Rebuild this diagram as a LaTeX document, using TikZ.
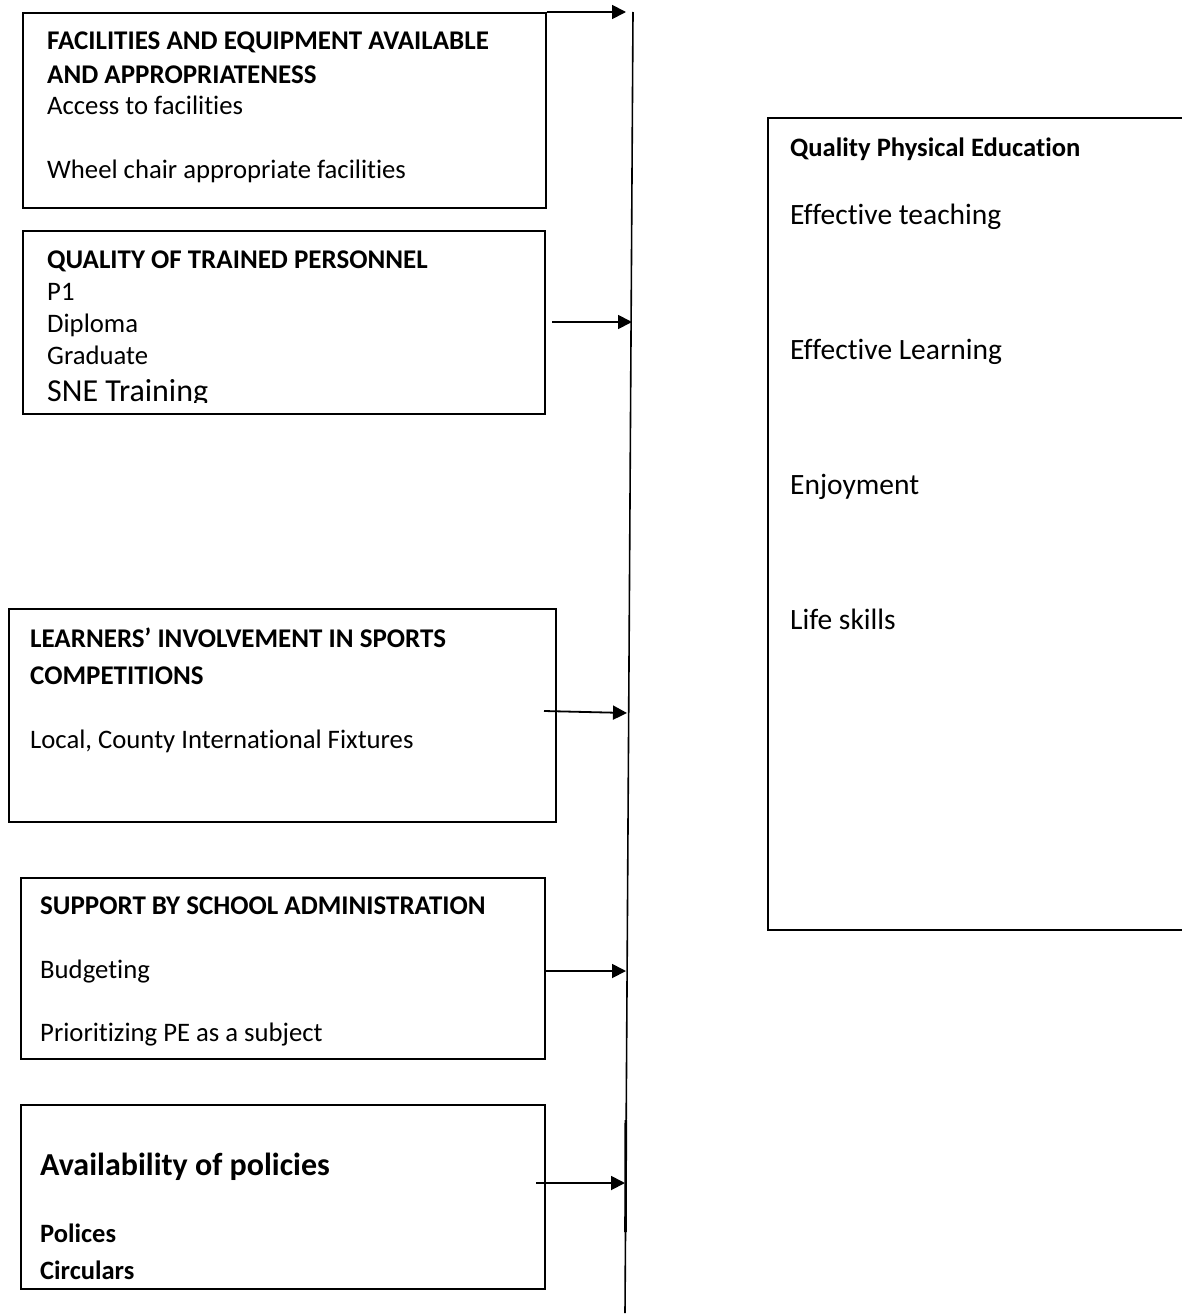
\documentclass[tikz,border=0pt]{standalone}
\usepackage{fontspec}
\setmainfont{Carlito}[Ligatures=CommonOff]
\usetikzlibrary{arrows.meta}

\tikzset{
  box/.style={draw,line width=1.6pt,inner sep=0pt,anchor=north west},
  head/.style={anchor=base west,inner sep=0pt,font=\bfseries\fontsize{27}{32}\selectfont},
  item/.style={anchor=base west,inner sep=0pt,font=\fontsize{26.7}{32}\selectfont},
  big/.style={anchor=base west,inner sep=0pt,font=\fontsize{29.5}{36}\selectfont},
  feed/.style={line width=1.8pt,-{Triangle[length=14pt,width=14pt]}}
}

\begin{document}
\begin{tikzpicture}[x=1pt,y=-1pt]
\useasboundingbox (0,0) rectangle (1182,1314);
\fill[white] (0,0) rectangle (1182,1314);

% left boxes
\node[box,minimum width=523pt,minimum height=195pt] (fac) at (22,12) {};
\node[box,minimum width=522pt,minimum height=183pt] (qtp) at (22,230) {};
\node[box,minimum width=547pt,minimum height=213pt] (lis) at (8,608) {};
\node[box,minimum width=524pt,minimum height=181pt] (ssa) at (20,877) {};
\node[box,minimum width=524pt,minimum height=184pt] (pol) at (20,1104) {};

% right box, open at the page edge
\draw[line width=1.6pt] (1190,118) -- (768,118) -- (768,930) -- (1190,930);

% texts
\node[head] (fac1) at (47,50) {FACILITIES AND EQUIPMENT AVAILABLE};
\node[head] (fac2) at (47,84) {AND APPROPRIATENESS};
\node[item] (fac3) at (47,114) {Access to facilities};
\node[item] (fac4) at (47,178) {Wheel chair appropriate facilities};

\node[head] (qtp1) at (47,268) {QUALITY OF TRAINED PERSONNEL};
\node[item] (qtp2) at (47,300) {P1};
\node[item] (qtp3) at (47,332) {Diploma};
\node[item] (qtp4) at (47,364) {Graduate};
\begin{scope}
\clip (22,370) rectangle (544,402);
\node[anchor=base west,inner sep=0pt,font=\fontsize{32}{38}\selectfont] (qtp5) at (47,401) {SNE Training};
\end{scope}

\node[head] (lis1) at (30,647) {LEARNERS’ INVOLVEMENT IN SPORTS};
\node[head] (lis2) at (30,684) {COMPETITIONS};
\node[item] (lis3) at (30,748) {Local, County International Fixtures};

\node[head] (ssa1) at (40,914) {SUPPORT BY SCHOOL ADMINISTRATION};
\node[item] (ssa2) at (40,978) {Budgeting};
\node[item] (ssa3) at (40,1041) {Prioritizing PE as a subject};

\node[big,font=\bfseries\fontsize{32}{38}\selectfont] (pol1) at (40,1175) {Availability of policies};
\node[head,font=\bfseries\fontsize{26.5}{32}\selectfont] (pol2) at (40,1242) {Polices};
\node[head,font=\bfseries\fontsize{26.5}{32}\selectfont] (pol3) at (40,1279) {Circulars};

\node[head,font=\bfseries\fontsize{26.6}{32}\selectfont] (qpe) at (790,156) {Quality Physical Education};
\node[big] (qpe1) at (790,224) {Effective teaching};
\node[big] (qpe2) at (790,359) {Effective Learning};
\node[big] (qpe3) at (790,494) {Enjoyment};
\node[big] (qpe4) at (790,629) {Life skills};

% spine
\coordinate (top) at (633,12);
\coordinate (bot) at (625,1313);
\draw[line width=1.6pt] (top) -- (bot);
\draw[line width=2.6pt] (625.8,1120) -- (625.5,1232);

% feeds into the spine
\coordinate (in1) at (626,12);
\coordinate (in2) at (632,322);
\coordinate (in3) at (627,713);
\coordinate (in4) at (626,971);
\coordinate (in5) at (625,1183);
\coordinate (out2) at (552,322);
\coordinate (out3) at (544,711);
\coordinate (out5) at (536,1183);

\draw[feed] (fac.north east) -- (in1);
\draw[feed] (out2) -- (in2);
\draw[feed] (out3) -- (in3);
\draw[feed] (ssa.east |- in4) -- (in4);
\draw[feed] (out5) -- (in5);
\end{tikzpicture}
\end{document}
